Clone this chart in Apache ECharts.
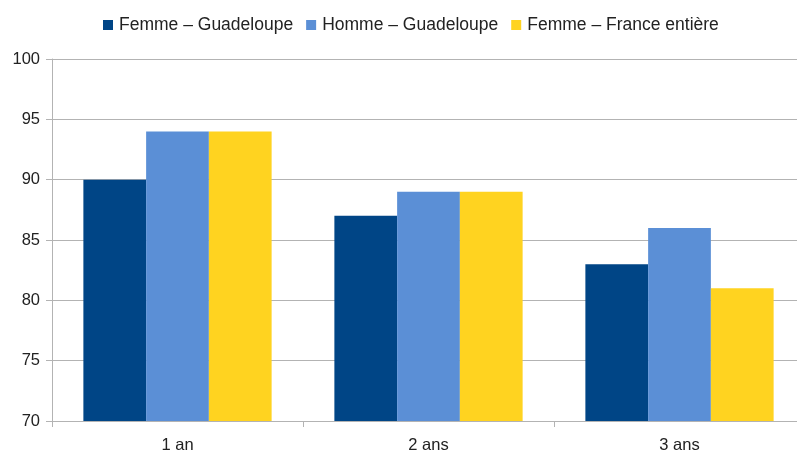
<!DOCTYPE html>
<html>
<head>
<meta charset="utf-8">
<script src="https://cdn.jsdelivr.net/npm/echarts@6/dist/echarts.min.js"></script>
<style>
  html, body { margin: 0; padding: 0; background: #fff; }
  #chart { width: 797px; height: 451px; }
</style>
</head>
<body>
<div id="chart"></div>
<script>
// data
const categories = ['1 an', '2 ans', '3 ans']
const femmeGuadeloupe = [90, 87, 83]
const hommeGuadeloupe = [94, 89, 86]
const femmeFrance = [94, 89, 81]
const seriesNames = ['Femme – Guadeloupe', 'Homme – Guadeloupe', 'Femme – France entière']
const colors = ['#004586', '#5b8fd6', '#ffd320']

const font = 'Liberation Sans, Arial, sans-serif'
const myChart = echarts.init(document.getElementById('chart'))

const bar = (name, data) => ({
  name: name,
  type: 'bar',
  data: data,
  barGap: '0%',
  barCategoryGap: '25%'
})

myChart.setOption({
  animation: false,
  color: colors,
  textStyle: { fontFamily: font },
  legend: {
    top: 11,
    left: 98,
    itemWidth: 10,
    itemHeight: 10,
    itemGap: 13,
    icon: 'rect',
    textStyle: { fontSize: 17.5, color: '#222', fontFamily: font, padding: [0, 0, 0, 1] }
  },
  // the plot runs a few pixels past the right edge of the picture
  grid: { left: 52, width: 753, top: 59, bottom: 30, outerBoundsMode: 'none' },
  xAxis: {
    type: 'category',
    data: categories,
    axisLine: { lineStyle: { color: '#b3b3b3' } },
    axisTick: { show: true, length: 6, lineStyle: { color: '#b3b3b3' } },
    axisLabel: { fontSize: 16.5, color: '#222', margin: 16 }
  },
  yAxis: {
    type: 'value',
    min: 70,
    max: 100,
    interval: 5,
    axisLine: { show: true, lineStyle: { color: '#b3b3b3' } },
    axisTick: { show: true, length: 6, lineStyle: { color: '#b3b3b3' } },
    splitLine: { lineStyle: { color: '#b3b3b3' } },
    axisLabel: { fontSize: 16.5, color: '#222', margin: 12, padding: [3, 0, 0, 0] }
  },
  series: [
    bar(seriesNames[0], femmeGuadeloupe),
    bar(seriesNames[1], hommeGuadeloupe),
    bar(seriesNames[2], femmeFrance)
  ]
})
</script>
</body>
</html>
